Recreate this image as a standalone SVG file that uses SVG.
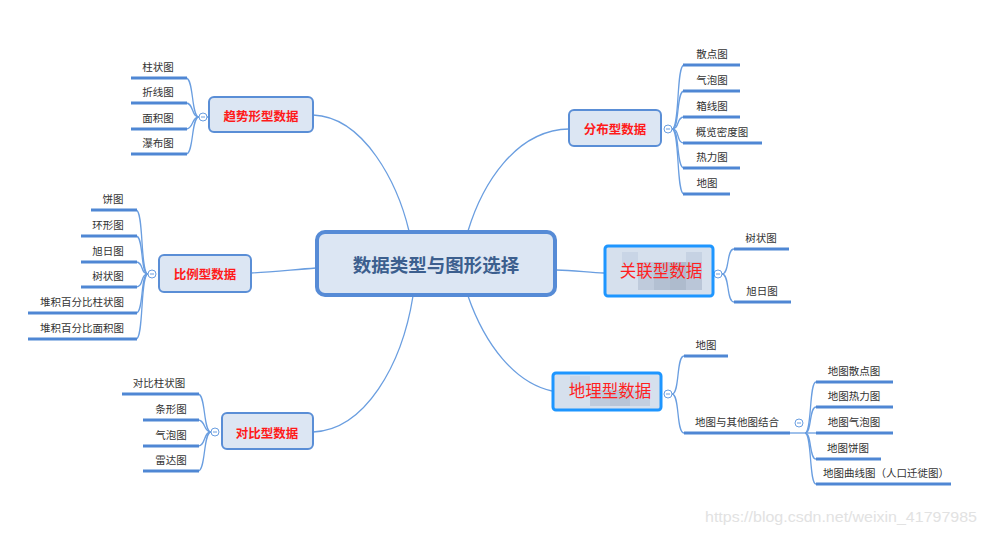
<svg xmlns="http://www.w3.org/2000/svg" width="987" height="535" viewBox="0 0 987 535">
<style>
.bg{fill:#ffffff}
.node{fill:#dce6f3;stroke:#5a8ed6;stroke-width:2}
.central{fill:#dce6f3;stroke:#568bd6;stroke-width:4}
.ctext{font-family:"Noto Sans CJK SC","Noto Sans",sans-serif;font-size:18.5px;font-weight:bold;fill:#3c5f8e;text-anchor:middle;dominant-baseline:central}
.ntext{font-family:"Noto Sans CJK SC","Noto Sans",sans-serif;font-size:12.5px;font-weight:bold;fill:#ff1a1a;text-anchor:middle;dominant-baseline:central}
.mtext{font-family:"Noto Sans CJK SC","Noto Sans",sans-serif;font-size:16.5px;fill:#ff1f1f;text-anchor:middle;dominant-baseline:central}
.sel{stroke:#1e96ff;stroke-width:3}
.leaf{font-family:"Noto Sans CJK SC","Noto Sans",sans-serif;font-size:10.5px;fill:#333333;text-anchor:middle}
.ul{stroke:#4f87d4;stroke-width:3;fill:none}
.conn{stroke:#6a9ee0;stroke-width:1.3;fill:none}
.coll{fill:#ffffff;stroke:#6a9ee0;stroke-width:1}
.minus{stroke:#6a9ee0;stroke-width:1}
.wm{font-family:"Liberation Sans",Arial,sans-serif;font-size:15.5px;fill:#e2e2e2}
</style>
<rect class="bg" x="0" y="0" width="987" height="535"/>

<g id="connectors">
  <!-- main -->
  <path class="conn" d="M313,115 C365,117 398,185 409,231"/>
  <path class="conn" d="M569,129 C515,130 482,185 468,231"/>
  <path class="conn" d="M316,268 C290,270 270,272 251,273"/>
  <path class="conn" d="M413,296 C402,365 365,430 313,432"/>
  <path class="conn" d="M468,296 C485,345 515,383 552,391"/>
  <path class="conn" d="M556,270 C575,270 590,273 604,273"/>
  <!-- trend leaves -->
  <line class="conn" x1="207" y1="117" x2="208" y2="117"/>
  <path class="conn" d="M199,117 C191,117 194,78 186,78"/>
  <path class="conn" d="M199,117 C191,117 194,103 186,103"/>
  <path class="conn" d="M199,117 C191,117 194,129 186,129"/>
  <path class="conn" d="M199,117 C191,117 194,154 186,154"/>
  <!-- proportion leaves -->
  <path class="conn" d="M148,274 C140,274 144,210 136,210"/>
  <path class="conn" d="M148,274 C140,274 144,236 136,236"/>
  <path class="conn" d="M148,274 C140,274 144,262 136,262"/>
  <path class="conn" d="M148,274 C140,274 144,287 136,287"/>
  <path class="conn" d="M148,274 C140,274 144,313 136,313"/>
  <path class="conn" d="M148,274 C140,274 144,339 136,339"/>
  <!-- compare leaves -->
  <path class="conn" d="M211,432 C203,432 206,394 198,394"/>
  <path class="conn" d="M211,432 C203,432 206,420 198,420"/>
  <path class="conn" d="M211,432 C203,432 206,446 198,446"/>
  <path class="conn" d="M211,432 C203,432 206,471 198,471"/>
  <!-- distribution leaves -->
  <path class="conn" d="M672,129 C680,129 676,65 684,65"/>
  <path class="conn" d="M672,129 C680,129 676,91 684,91"/>
  <path class="conn" d="M672,129 C680,129 676,117 684,117"/>
  <path class="conn" d="M672,129 C680,129 676,143 684,143"/>
  <path class="conn" d="M672,129 C680,129 676,168 684,168"/>
  <path class="conn" d="M672,129 C680,129 676,194 684,194"/>
  <!-- association leaves -->
  <path class="conn" d="M722,274 C730,274 726,249 734,249"/>
  <path class="conn" d="M722,274 C730,274 726,302 734,302"/>
  <!-- geo leaves -->
  <path class="conn" d="M672,394 C680,394 676,356 684,356"/>
  <path class="conn" d="M672,394 C680,394 676,433 684,433"/>
  <line class="conn" x1="790" y1="433" x2="816" y2="433"/>
  <path class="conn" d="M805,433 C812,433 809,382 816,382"/>
  <path class="conn" d="M805,433 C812,433 809,407 816,407"/>
  <path class="conn" d="M805,433 C812,433 809,459 816,459"/>
  <path class="conn" d="M805,433 C812,433 809,484 816,484"/>
  <!-- collapse markers -->
  <circle class="coll" cx="203" cy="117" r="4"/><line class="minus" x1="201" y1="117" x2="205" y2="117"/>
  <circle class="coll" cx="152" cy="274" r="4"/><line class="minus" x1="150" y1="274" x2="154" y2="274"/>
  <circle class="coll" cx="215" cy="432" r="4"/><line class="minus" x1="213" y1="432" x2="217" y2="432"/>
  <circle class="coll" cx="668" cy="129" r="4"/><line class="minus" x1="666" y1="129" x2="670" y2="129"/>
  <circle class="coll" cx="718" cy="274" r="4"/><line class="minus" x1="716" y1="274" x2="720" y2="274"/>
  <circle class="coll" cx="668" cy="394" r="4"/><line class="minus" x1="666" y1="394" x2="670" y2="394"/>
  <circle class="coll" cx="799" cy="423" r="4"/><line class="minus" x1="797" y1="423" x2="801" y2="423"/>
</g>

<g id="central">
  <rect class="central" x="317" y="232" width="238" height="63" rx="8"/>
  <text class="ctext" x="436" y="264">数据类型与图形选择</text>
</g>

<g id="trend">
  <rect class="node" x="209" y="97" width="104" height="35" rx="5"/>
  <text class="ntext" x="261" y="115">趋势形型数据</text>
</g>
<g id="trend-leaves">
  <line class="ul" x1="131" y1="78" x2="187" y2="78"/><text class="leaf" x="158" y="71">柱状图</text>
  <line class="ul" x1="131" y1="103" x2="187" y2="103"/><text class="leaf" x="158" y="96">折线图</text>
  <line class="ul" x1="131" y1="129" x2="187" y2="129"/><text class="leaf" x="158" y="122">面积图</text>
  <line class="ul" x1="131" y1="154" x2="187" y2="154"/><text class="leaf" x="158" y="147">瀑布图</text>
</g>

<g id="proportion">
  <rect class="node" x="159" y="255" width="92" height="37" rx="5"/>
  <text class="ntext" x="205" y="273">比例型数据</text>
</g>
<g id="proportion-leaves">
  <line class="ul" x1="91" y1="210" x2="137" y2="210"/><text class="leaf" x="113" y="203">饼图</text>
  <line class="ul" x1="81" y1="236" x2="137" y2="236"/><text class="leaf" x="108" y="229">环形图</text>
  <line class="ul" x1="81" y1="262" x2="137" y2="262"/><text class="leaf" x="108" y="255">旭日图</text>
  <line class="ul" x1="81" y1="287" x2="137" y2="287"/><text class="leaf" x="108" y="280">树状图</text>
  <line class="ul" x1="28" y1="313" x2="137" y2="313"/><text class="leaf" x="82" y="306">堆积百分比柱状图</text>
  <line class="ul" x1="28" y1="339" x2="137" y2="339"/><text class="leaf" x="82" y="332">堆积百分比面积图</text>
</g>

<g id="compare">
  <rect class="node" x="222" y="413" width="91" height="36" rx="5"/>
  <text class="ntext" x="267" y="432">对比型数据</text>
</g>
<g id="compare-leaves">
  <line class="ul" x1="122" y1="394" x2="199" y2="394"/><text class="leaf" x="159" y="387">对比柱状图</text>
  <line class="ul" x1="143" y1="420" x2="199" y2="420"/><text class="leaf" x="171" y="413">条形图</text>
  <line class="ul" x1="143" y1="446" x2="199" y2="446"/><text class="leaf" x="171" y="439">气泡图</text>
  <line class="ul" x1="143" y1="471" x2="199" y2="471"/><text class="leaf" x="171" y="464">雷达图</text>
</g>

<g id="distribution">
  <rect class="node" x="569" y="110" width="92" height="36" rx="5"/>
  <text class="ntext" x="615" y="128">分布型数据</text>
</g>
<g id="distribution-leaves">
  <line class="ul" x1="683" y1="65" x2="740" y2="65"/><text class="leaf" x="712" y="58">散点图</text>
  <line class="ul" x1="683" y1="91" x2="740" y2="91"/><text class="leaf" x="712" y="84">气泡图</text>
  <line class="ul" x1="683" y1="117" x2="740" y2="117"/><text class="leaf" x="712" y="110">箱线图</text>
  <line class="ul" x1="683" y1="143" x2="762" y2="143"/><text class="leaf" x="722" y="136">概览密度图</text>
  <line class="ul" x1="683" y1="168" x2="740" y2="168"/><text class="leaf" x="712" y="161">热力图</text>
  <line class="ul" x1="683" y1="194" x2="730" y2="194"/><text class="leaf" x="707" y="187">地图</text>
</g>

<g id="association">
  <rect x="605" y="246" width="108" height="50" rx="3" fill="#d6e0ed"/>
  <rect x="622" y="252" width="16" height="16" fill="#c9d5e6"/>
  <rect x="638" y="262" width="16" height="28" fill="#bfcbdc"/>
  <rect x="654" y="262" width="16" height="28" fill="#b3c0d2"/>
  <rect x="670" y="262" width="16" height="28" fill="#aebbcd"/>
  <rect x="686" y="262" width="16" height="28" fill="#bac6d8"/>
  <rect x="686" y="252" width="16" height="10" fill="#c6d2e3"/>
  <rect class="sel" x="605" y="246" width="108" height="50" rx="3" fill="none"/>
  <text class="mtext" x="661" y="270">关联型数据</text>
</g>
<g id="association-leaves">
  <line class="ul" x1="734" y1="249" x2="789" y2="249"/><text class="leaf" x="761" y="242">树状图</text>
  <line class="ul" x1="734" y1="302" x2="791" y2="302"/><text class="leaf" x="762" y="295">旭日图</text>
</g>

<g id="geo">
  <rect x="553" y="373" width="108" height="37" rx="3" fill="#d6e0ed"/>
  <rect x="570" y="376" width="20" height="14" fill="#cbd6e7"/>
  <rect x="590" y="390" width="20" height="16" fill="#bfcbdc"/>
  <rect x="610" y="390" width="20" height="16" fill="#b8c5d7"/>
  <rect x="630" y="390" width="20" height="16" fill="#c3cfe0"/>
  <rect class="sel" x="553" y="373" width="108" height="37" rx="3" fill="none"/>
  <text class="mtext" x="610" y="390">地理型数据</text>
</g>
<g id="geo-leaves">
  <line class="ul" x1="684" y1="356" x2="728" y2="356"/><text class="leaf" x="706" y="349">地图</text>
  <line class="ul" x1="684" y1="433" x2="790" y2="433"/><text class="leaf" x="737" y="426">地图与其他图结合</text>
</g>
<g id="geo-combo-leaves">
  <line class="ul" x1="816" y1="382" x2="893" y2="382"/><text class="leaf" x="854" y="375">地图散点图</text>
  <line class="ul" x1="816" y1="407" x2="893" y2="407"/><text class="leaf" x="854" y="400">地图热力图</text>
  <line class="ul" x1="816" y1="433" x2="893" y2="433"/><text class="leaf" x="854" y="426">地图气泡图</text>
  <line class="ul" x1="816" y1="459" x2="881" y2="459"/><text class="leaf" x="848" y="452">地图饼图</text>
  <line class="ul" x1="816" y1="484" x2="951" y2="484"/><text class="leaf" x="886" y="477">地图曲线图（人口迁徙图）</text>
</g>

<text class="wm" x="705" y="522" textLength="272" lengthAdjust="spacingAndGlyphs">https://blog.csdn.net/weixin_41797985</text>
</svg>
